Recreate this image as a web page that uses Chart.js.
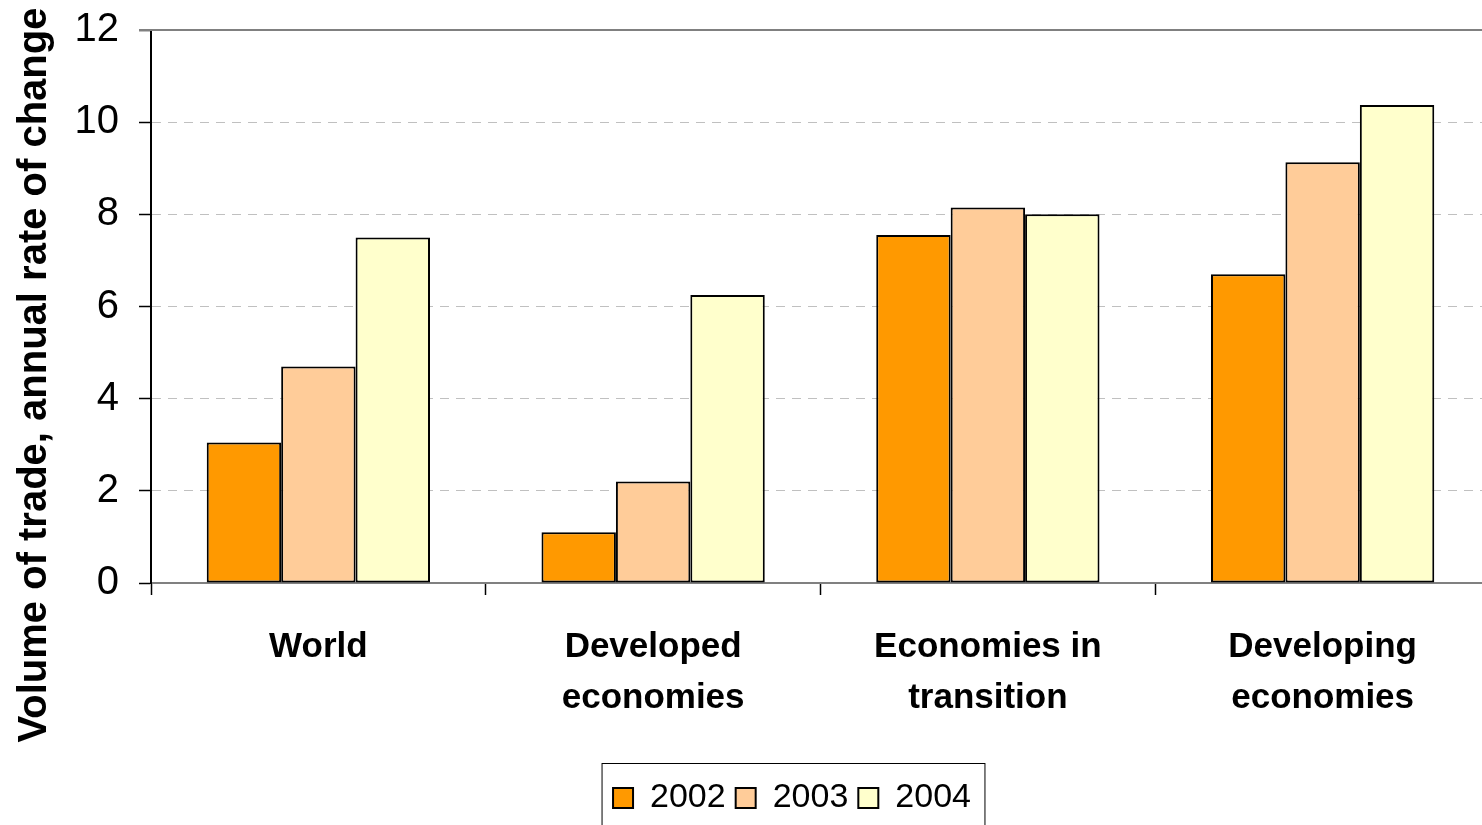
<!DOCTYPE html>
<html>
<head>
<meta charset="utf-8">
<script src="https://cdn.jsdelivr.net/npm/chart.js@4.4.1/dist/chart.umd.min.js"></script>
<style>
  html, body { margin: 0; padding: 0; background: #fff; }
</style>
</head>
<body>
<canvas id="chart" width="1482" height="825"></canvas>
<script>
const categories = [['World'], ['Developed', 'economies'], ['Economies in', 'transition'], ['Developing', 'economies']];
const years = ['2002', '2003', '2004'];
const v2002 = [3.05, 1.1, 7.55, 6.7];
const v2003 = [4.7, 2.2, 8.15, 9.13];
const v2004 = [7.5, 6.25, 8.0, 10.37];
const yTicks = [0, 2, 4, 6, 8, 10, 12];
const yTitle = 'Volume of trade, annual rate of change';

const FONT = "'Liberation Sans', Arial, sans-serif";

// extra decorations: top frame line, legend frame, y title
const framePlugin = {
  id: 'frame',
  afterLayout(chart) {
    const lg = chart.legend;
    lg.left += 51; lg.right += 51;
    // the plot runs a little past the right edge of the picture
    const xs = chart.scales.x;
    xs.right += 8; xs.width += 8;
    xs.configure();
  },
  afterDraw(chart) {
    const { ctx, chartArea: a, legend: lg } = chart;
    ctx.save();
    ctx.strokeStyle = '#808080'; ctx.lineWidth = 2;
    ctx.beginPath(); ctx.moveTo(a.left - 12, a.top); ctx.lineTo(a.right, a.top); ctx.stroke();

    const pad = lg.options.labels.padding;
    const cx = (lg.left + lg.right) / 2;
    const half = (lg.lineWidths[0] - pad) / 2;
    ctx.strokeStyle = '#000'; ctx.lineWidth = 1;
    ctx.strokeRect(cx - half - 11, lg.top - 7.5, 2 * half + 25, chart.height);

    ctx.translate(35, 375);
    ctx.rotate(-Math.PI / 2);
    ctx.font = 'bold 40px ' + FONT;
    ctx.textAlign = 'center'; ctx.textBaseline = 'middle'; ctx.fillStyle = '#000';
    ctx.fillText(yTitle, 0, 0);
    ctx.restore();
  }
};

new Chart(document.getElementById('chart'), {
  type: 'bar',
  data: {
    labels: categories,
    datasets: [
      { label: years[0], data: v2002, backgroundColor: '#FF9900' },
      { label: years[1], data: v2003, backgroundColor: '#FFCC99' },
      { label: years[2], data: v2004, backgroundColor: '#FFFFCC' }
    ].map(d => ({ ...d, borderColor: '#000', borderWidth: 2, borderSkipped: false, categoryPercentage: 0.667, barPercentage: 1 }))
  },
  options: {
    responsive: false, animation: false,
    layout: { padding: { top: 30, right: 0, left: 0, bottom: 0 } },
    plugins: {
      tooltip: { enabled: false },
      legend: {
        position: 'bottom',
        labels: { boxWidth: 20, boxHeight: 20, padding: 10, color: '#000', font: { family: FONT, size: 34 } }
      }
    },
    scales: {
      x: {
        grid: { offset: true, drawOnChartArea: false, tickLength: 12, tickColor: '#000', tickWidth: 1.5 },
        border: { color: '#808080', width: 2 },
        ticks: { color: '#000', padding: 26, maxRotation: 0, font: { family: FONT, size: 35, weight: 'bold', lineHeight: 1.48 } },
        afterFit: s => { s.height = 188; }
      },
      y: {
        min: 0, max: 12,
        afterBuildTicks: s => { s.ticks = yTicks.map(v => ({ value: v })); },
        grid: {
          color: c => (c.tick && (c.tick.value === 0 || c.tick.value === 12)) ? 'rgba(0,0,0,0)' : '#c0c0c0',
          lineWidth: 1, tickLength: 12, tickColor: '#000', tickWidth: 1.5
        },
        border: { color: '#000', width: 2, dash: [9, 7] },
        ticks: { color: '#000', padding: 20, font: { family: FONT, size: 40 } },
        afterFit: s => { s.width = 151; s.paddingTop = 0; s.paddingBottom = 0; }
      }
    }
  },
  plugins: [framePlugin]
});
</script>
</body>
</html>
